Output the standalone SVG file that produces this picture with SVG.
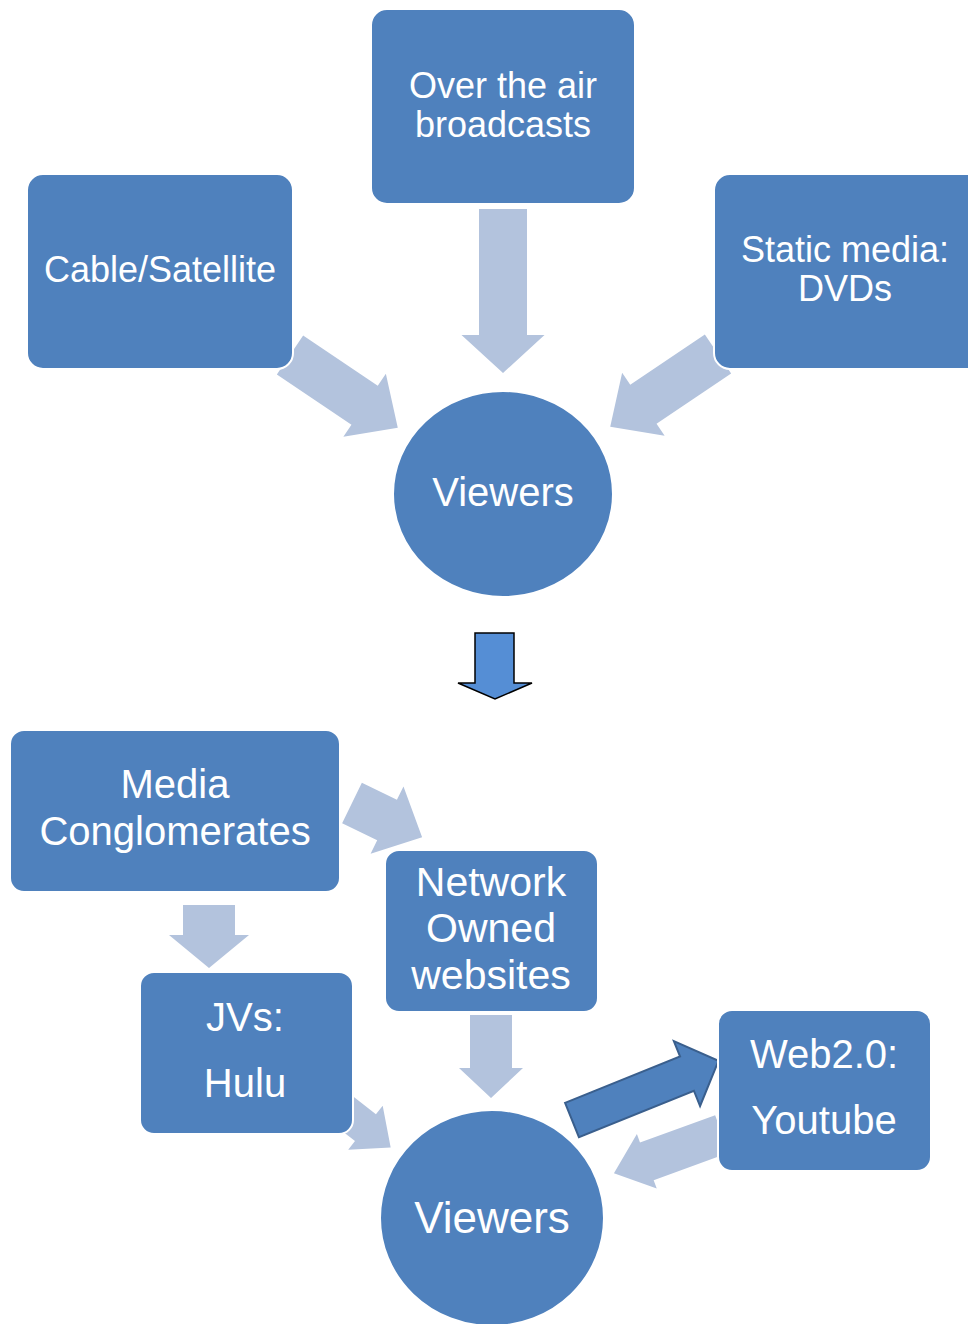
<svg xmlns="http://www.w3.org/2000/svg" width="968" height="1324" viewBox="0 0 968 1324">
<style>
.box{fill:#4F81BD;stroke:#ffffff;stroke-width:2}
.arr{fill:#B3C3DD}
.txt{font-family:"Liberation Sans",Arial,sans-serif;fill:#ffffff;text-anchor:middle}
</style>
<rect width="968" height="1324" fill="#ffffff"/>
<g id="connectors">
<g transform="translate(290,355) rotate(34)"><path class="arr" d="M0,-23.5 L90,-23.5 L90,-38 L130,0 L90,38 L90,23.5 L0,23.5 Z"/></g>
<g transform="translate(718,354) rotate(146)"><path class="arr" d="M0,-23.5 L90,-23.5 L90,-38 L130,0 L90,38 L90,23.5 L0,23.5 Z"/></g>
<g transform="translate(503,209) rotate(90)"><path class="arr" d="M0,-24 L126,-24 L126,-41.5 L164,0 L126,41.5 L126,24 L0,24 Z"/></g>
<path d="M475,633 L514,633 L514,683 L532,683 L495,699 L458,683 L475,683 Z" fill="#558ED5" stroke="#000000" stroke-width="1.5"/>
<g transform="translate(352,803) rotate(26)"><path class="arr" d="M0,-22.5 L39,-22.5 L39,-37.5 L78,0 L39,37.5 L39,22.5 L0,22.5 Z"/></g>
<g transform="translate(209,905) rotate(90)"><path class="arr" d="M0,-26 L30,-26 L30,-40 L63,0 L30,40 L30,26 L0,26 Z"/></g>
<g transform="translate(491,1015) rotate(90)"><path class="arr" d="M0,-21 L53,-21 L53,-32 L83,0 L53,32 L53,21 L0,21 Z"/></g>
<g transform="translate(330,1100) rotate(38)"><path class="arr" d="M0,-17 L45,-17 L45,-28 L77,0 L45,28 L45,17 L0,17 Z"/></g>
<g transform="translate(722,1134) rotate(160)"><path class="arr" d="M0,-20 L80,-20 L80,-29 L115,0 L80,29 L80,20 L0,20 Z"/></g>
<g transform="translate(572,1120) rotate(-22)"><path d="M0,-18.5 L124,-18.5 L124,-35 L158,0 L124,35 L124,18.5 L0,18.5 Z" fill="#4F81BD" stroke="#3A5F8D" stroke-width="2"/></g>
</g>
<g id="over-the-air">
<rect class="box" x="371" y="9" width="264" height="195" rx="16"/>
<text class="txt" x="503" y="98" font-size="36">Over the air</text>
<text class="txt" x="503" y="137" font-size="36">broadcasts</text>
</g>
<g id="cable-satellite">
<rect class="box" x="27" y="174" width="266" height="195" rx="16"/>
<text class="txt" x="160" y="282" font-size="36">Cable/Satellite</text>
</g>
<g id="static-media">
<rect class="box" x="714" y="174" width="270" height="195" rx="16"/>
<text class="txt" x="845" y="262" font-size="36">Static media:</text>
<text class="txt" x="845" y="301" font-size="36">DVDs</text>
</g>
<g id="viewers-1">
<ellipse class="box" cx="503" cy="494" rx="110" ry="103"/>
<text class="txt" x="503" y="506" font-size="40">Viewers</text>
</g>
<g id="media-conglomerates">
<rect class="box" x="10" y="730" width="330" height="162" rx="14"/>
<text class="txt" x="175" y="798" font-size="40">Media</text>
<text class="txt" x="175" y="845" font-size="40">Conglomerates</text>
</g>
<g id="network-owned">
<rect class="box" x="385" y="850" width="213" height="162" rx="14"/>
<text class="txt" x="491" y="896" font-size="41">Network</text>
<text class="txt" x="491" y="942" font-size="41">Owned</text>
<text class="txt" x="491" y="989" font-size="41">websites</text>
</g>
<g id="jvs-hulu">
<rect class="box" x="140" y="972" width="213" height="162" rx="14"/>
<text class="txt" x="245" y="1031" font-size="40">JVs:</text>
<text class="txt" x="245" y="1097" font-size="40">Hulu</text>
</g>
<g id="web20-youtube">
<rect class="box" x="718" y="1010" width="213" height="161" rx="14"/>
<text class="txt" x="824" y="1068" font-size="40">Web2.0:</text>
<text class="txt" x="824" y="1134" font-size="40">Youtube</text>
</g>
<g id="viewers-2">
<ellipse class="box" cx="492" cy="1218" rx="112" ry="108"/>
<text class="txt" x="492" y="1233" font-size="44">Viewers</text>
</g>
</svg>
